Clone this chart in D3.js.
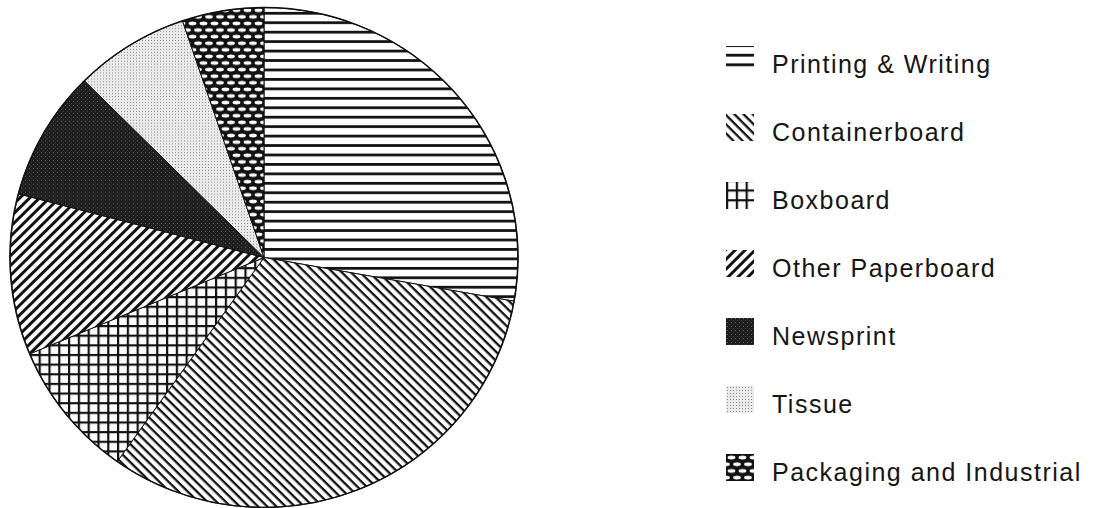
<!DOCTYPE html>
<html>
<head>
    <meta charset="utf-8" />
    <script src="https://cdn.jsdelivr.net/npm/d3@7"></script>
    <title></title>
    <style>
        body { margin: 0; background: #fff; }
        .legendText {
            font-family: "Liberation Sans", Arial, Helvetica, sans-serif;
            font-size: 25px;
            letter-spacing: 1.5px;
            fill: #151515;
        }
        .slice {
            stroke: #111;
            stroke-width: 1;
        }
    </style>
</head>
<body>
    <script>
        var categories = ["Printing & Writing", "Containerboard", "Boxboard", "Other Paperboard",
                          "Newsprint", "Tissue", "Packaging and Industrial"];
        var shares = [27.8, 32.0, 8.9, 10.4, 8.4, 7.3, 5.2];
        var patternIds = ["pHoriz", "pBack", "pGrid", "pFwd", "pNews", "pTissue", "pPack"];

        var svgWidth = 1097,
            svgHeight = 508,
            cx = 264,
            cy = 257.5,
            radius = 254;

        var svg = d3.select("body").append("svg")
            .attr("width", svgWidth)
            .attr("height", svgHeight);

        var defs = svg.append("defs");

        // horizontal lines
        var p = defs.append("pattern").attr("id", "pHoriz")
            .attr("patternUnits", "userSpaceOnUse").attr("width", 10).attr("height", 9.6);
        p.append("rect").attr("width", 10).attr("height", 9.6).attr("fill", "#fff");
        p.append("rect").attr("y", 0).attr("width", 10).attr("height", 2.8).attr("fill", "#111");

        // diagonal \ lines
        p = defs.append("pattern").attr("id", "pBack")
            .attr("patternUnits", "userSpaceOnUse").attr("width", 10).attr("height", 6.5)
            .attr("patternTransform", "rotate(45)");
        p.append("rect").attr("width", 10).attr("height", 6.5).attr("fill", "#fff");
        p.append("rect").attr("width", 10).attr("height", 2.3).attr("fill", "#111");

        // grid
        p = defs.append("pattern").attr("id", "pGrid")
            .attr("patternUnits", "userSpaceOnUse").attr("width", 9.8).attr("height", 9.8);
        p.append("rect").attr("width", 9.8).attr("height", 9.8).attr("fill", "#fff");
        p.append("rect").attr("width", 9.8).attr("height", 2.2).attr("fill", "#111");
        p.append("rect").attr("width", 2.2).attr("height", 9.8).attr("fill", "#111");

        // diagonal / lines
        p = defs.append("pattern").attr("id", "pFwd")
            .attr("patternUnits", "userSpaceOnUse").attr("width", 10).attr("height", 7)
            .attr("patternTransform", "rotate(-45)");
        p.append("rect").attr("width", 10).attr("height", 7).attr("fill", "#fff");
        p.append("rect").attr("width", 10).attr("height", 3).attr("fill", "#111");

        // newsprint: dark stipple
        p = defs.append("pattern").attr("id", "pNews")
            .attr("patternUnits", "userSpaceOnUse").attr("width", 4).attr("height", 4);
        p.append("rect").attr("width", 4).attr("height", 4).attr("fill", "#1d1d1d");
        p.append("rect").attr("x", 1).attr("y", 1).attr("width", 1).attr("height", 1).attr("fill", "#6a6a6a");
        p.append("rect").attr("x", 3).attr("y", 3).attr("width", 1).attr("height", 1).attr("fill", "#444");

        // tissue: light stipple
        p = defs.append("pattern").attr("id", "pTissue")
            .attr("patternUnits", "userSpaceOnUse").attr("width", 3).attr("height", 3);
        p.append("rect").attr("width", 3).attr("height", 3).attr("fill", "#ebebeb");
        p.append("rect").attr("x", 1).attr("y", 1).attr("width", 1).attr("height", 1).attr("fill", "#8a8a8a");

        // packaging: black with white ovals, offset rows
        p = defs.append("pattern").attr("id", "pPack")
            .attr("patternUnits", "userSpaceOnUse").attr("width", 11).attr("height", 13.4);
        p.append("rect").attr("width", 11).attr("height", 13.4).attr("fill", "#111");
        p.append("ellipse").attr("cx", 5.5).attr("cy", 3.3).attr("rx", 3.9).attr("ry", 1.9).attr("fill", "#fff");
        p.append("ellipse").attr("cx", 0).attr("cy", 10).attr("rx", 3.9).attr("ry", 1.9).attr("fill", "#fff");
        p.append("ellipse").attr("cx", 11).attr("cy", 10).attr("rx", 3.9).attr("ry", 1.9).attr("fill", "#fff");

        var pie = d3.pie().sort(null).value(function(d) { return d; });
        var arc = d3.arc().innerRadius(0).outerRadius(radius);

        var g = svg.append("g")
            .attr("transform", "translate(" + cx + "," + cy + ") scale(1,0.984)");

        g.selectAll("path.slice")
            .data(pie(shares))
            .enter().append("path")
            .attr("class", "slice")
            .attr("d", arc)
            .attr("fill", function(d, i) { return "url(#" + patternIds[i] + ")"; });

        g.append("circle")
            .attr("r", radius)
            .attr("fill", "none")
            .attr("stroke", "#111")
            .attr("stroke-width", 1.6);

        // legend
        var legendY = d3.scaleLinear().domain([0, categories.length - 1]).range([73, 481]);

        var legend = svg.append("g").selectAll("g.item")
            .data(categories)
            .enter().append("g")
            .attr("class", "item")
            .attr("transform", function(d, i) { return "translate(726," + legendY(i) + ")"; });

        legend.append("rect")
            .attr("x", 0)
            .attr("y", -27)
            .attr("width", 28)
            .attr("height", 27)
            .attr("fill", function(d, i) { return "url(#" + patternIds[i] + ")"; });

        legend.append("text")
            .attr("class", "legendText")
            .attr("x", 46)
            .attr("y", 0)
            .text(function(d) { return d; });
    </script>
</body>
</html>
